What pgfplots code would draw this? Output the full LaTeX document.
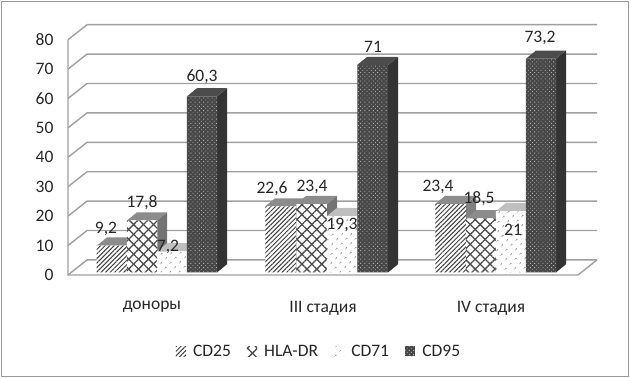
\documentclass[border=0pt]{standalone}
\usepackage{fontspec}
\setmainfont{Carlito}
\usepackage{pgfplots}
\pgfplotsset{compat=1.18}
\usetikzlibrary{patterns.meta}
\definecolor{gridc}{HTML}{A0A0A0}
\definecolor{txt}{HTML}{262626}
\tikzset{
 pA/.style={fill=white,draw=none,postaction={pattern={Lines[angle=45,distance=3.2pt,line width=1pt]},pattern color=black!75}},
 pB/.style={fill=white,draw=none,postaction={pattern={Lines[angle=45,distance=7pt,line width=1.3pt]},pattern color=black!70},postaction={pattern={Lines[angle=-45,distance=7pt,line width=1.3pt]},pattern color=black!70}},
 pC/.style={fill=white,draw=none,postaction={pattern={Dots[distance=6.5pt,radius=.8pt,angle=45]},pattern color=black!60}},
 pD/.style={fill=black!72,draw=none,postaction={pattern={Dots[distance=3pt,radius=.6pt,angle=45]},pattern color=black!30}},
 lab/.style={font=\fontsize{17.5}{17.5}\selectfont,text=txt,inner sep=0pt},
}
\pgfplotsset{
 bars/.style={ybar,bar shift=0pt,bar width=30.5pt},
 gl/.style={gridc,line width=1.4pt,forget plot},
 face/.style={fill=#1,draw=none,forget plot},
}
\begin{document}
\begin{tikzpicture}
\begin{axis}[
 x=1pt,y=2.92pt,
 xmin=68,xmax=597,ymin=-0.86,ymax=84.84,
 clip=false,
 axis line style={draw=none},
 major tick length=0pt,
 ytick={-0.86,9.21,19.28,29.35,39.42,49.5,59.56,69.63,79.7},
 yticklabels={0,10,20,30,40,50,60,70,80},
 xtick={152,323,491},
 xticklabels={доноры,III стадия,IV стадия},
 tick label style={font=\fontsize{17.5}{17.5}\selectfont,text=txt},
 y tick label style={xshift=-11pt},
 x tick label style={yshift=-23pt},
 legend columns=4,
 legend style={at={(axis cs:319,-27.2)},anchor=center,draw=none,fill=none,font=\fontsize{17.5}{17.5}\selectfont,text=txt,
   /tikz/every even column/.style={column sep=14pt},/tikz/every odd column/.style={column sep=5pt}},
 area legend,
 legend image code/.code={\path[#1] (0cm,-0.16cm) rectangle (0.36cm,0.2cm);},
]
% walls and gridlines
\addplot[gl] coordinates {(68,79.7)(68,-0.86)(578,-0.86)(597,4.28)};
\addplot[gl] coordinates {(68,-0.86)(87,4.28)(597,4.28)};
\addplot[gl] coordinates {(68,9.21)(87,14.35)(597,14.35)};
\addplot[gl] coordinates {(68,19.28)(87,24.42)(597,24.42)};
\addplot[gl] coordinates {(68,29.35)(87,34.49)(597,34.49)};
\addplot[gl] coordinates {(68,39.42)(87,44.56)(597,44.56)};
\addplot[gl] coordinates {(68,49.5)(87,54.64)(597,54.64)};
\addplot[gl] coordinates {(68,59.56)(87,64.7)(597,64.7)};
\addplot[gl] coordinates {(68,69.63)(87,74.77)(597,74.77)};
\addplot[gl] coordinates {(68,79.7)(87,84.84)(597,84.84)};
% CD25 sides and tops
\addplot[face=black!50] coordinates {(127,0)(137,2.8)(137,12)(127,9.2)} -- cycle;
\addplot[face=black!45] coordinates {(97,9.2)(127,9.2)(137,12)(107,12)} -- cycle;
\addplot[face=black!50] coordinates {(296,0)(306,2.8)(306,25.4)(296,22.6)} -- cycle;
\addplot[face=black!45] coordinates {(265,22.6)(296,22.6)(306,25.4)(275,25.4)} -- cycle;
\addplot[face=black!50] coordinates {(466,0)(476,2.8)(476,26.2)(466,23.4)} -- cycle;
\addplot[face=black!45] coordinates {(435,23.4)(466,23.4)(476,26.2)(445,26.2)} -- cycle;
\addplot[bars,pA] coordinates {(112,9.2)(280.5,22.6)(450.5,23.4)};
% HLA-DR
\addplot[face=black!55] coordinates {(157,0)(167,2.8)(167,20.6)(157,17.8)} -- cycle;
\addplot[face=black!45] coordinates {(127,17.8)(157,17.8)(167,20.6)(137,20.6)} -- cycle;
\addplot[face=black!55] coordinates {(327,0)(337,2.8)(337,26.2)(327,23.4)} -- cycle;
\addplot[face=black!45] coordinates {(296,23.4)(327,23.4)(337,26.2)(306,26.2)} -- cycle;
\addplot[face=black!55] coordinates {(496,0)(506,2.8)(506,21.3)(496,18.5)} -- cycle;
\addplot[face=black!45] coordinates {(466,18.5)(496,18.5)(506,21.3)(476,21.3)} -- cycle;
\addplot[bars,pB] coordinates {(142,17.8)(311.5,23.4)(481,18.5)};
% CD71
\addplot[face=black!25] coordinates {(187,0)(197,2.8)(197,10)(187,7.2)} -- cycle;
\addplot[face=black!25] coordinates {(157,7.2)(187,7.2)(197,10)(167,10)} -- cycle;
\addplot[face=black!25] coordinates {(357,0)(367,2.8)(367,22.1)(357,19.3)} -- cycle;
\addplot[face=black!25] coordinates {(327,19.3)(357,19.3)(367,22.1)(337,22.1)} -- cycle;
\addplot[face=black!25] coordinates {(526,0)(536,2.8)(536,23.8)(526,21)} -- cycle;
\addplot[face=black!25] coordinates {(496,21)(526,21)(536,23.8)(506,23.8)} -- cycle;
\addplot[bars,pC] coordinates {(172,7.2)(342,19.3)(511,21)};
% CD95
\addplot[face=black!80] coordinates {(217,0)(227,2.8)(227,63.1)(217,60.3)} -- cycle;
\addplot[face=black!70] coordinates {(187,60.3)(217,60.3)(227,63.1)(197,63.1)} -- cycle;
\addplot[face=black!80] coordinates {(388,0)(398,2.8)(398,73.8)(388,71)} -- cycle;
\addplot[face=black!70] coordinates {(357,71)(388,71)(398,73.8)(367,73.8)} -- cycle;
\addplot[face=black!80] coordinates {(556,0)(566,2.8)(566,76)(556,73.2)} -- cycle;
\addplot[face=black!70] coordinates {(526,73.2)(556,73.2)(566,76)(536,76)} -- cycle;
\addplot[bars,pD] coordinates {(202,60.3)(372.5,71)(541,73.2)};
\legend{CD25,HLA-DR,CD71,CD95}
% data labels
\node[lab] at (axis cs:106,14.9) {9,2};
\node[lab] at (axis cs:142,23.8) {17,8};
\node[lab] at (axis cs:168,8.7) {7,2};
\node[lab] at (axis cs:202,67) {60,3};
\node[lab] at (axis cs:272,28.6) {22,6};
\node[lab] at (axis cs:312,29.3) {23,4};
\node[lab] at (axis cs:342,16.3) {19,3};
\node[lab] at (axis cs:373,77.2) {71};
\node[lab] at (axis cs:438,29.3) {23,4};
\node[lab] at (axis cs:479,25.2) {18,5};
\node[lab] at (axis cs:513,14.6) {21};
\node[lab] at (axis cs:540,80.3) {73,2};
% page frame
\draw[black!40,line width=1.4pt] (axis cs:1.5,-35.6) rectangle (axis cs:628.5,92.8);
\path (axis cs:0,-36.13) rectangle (axis cs:631,93.3);
\end{axis}
\end{tikzpicture}
\end{document}
